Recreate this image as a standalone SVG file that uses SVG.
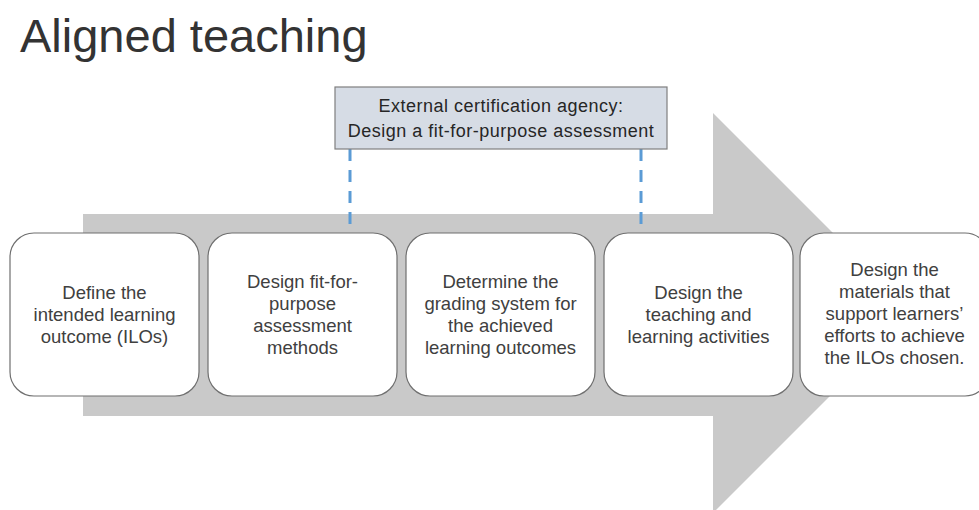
<svg xmlns="http://www.w3.org/2000/svg" width="979" height="510" viewBox="0 0 979 510">
<style>
  .title { font-family: "Liberation Sans", Arial, sans-serif; font-size: 47px; fill: #333333; }
  .arrow { fill: #c9c9c9; }
  .box { fill: #ffffff; stroke: #6f6f6f; stroke-width: 1.2; }
  .topbox { fill: #d6dce5; stroke: #7f7f7f; stroke-width: 1.2; }
  .lbl { font-family: "Liberation Sans", Arial, sans-serif; font-size: 18.5px; fill: #404040; text-anchor: middle; }
  .toplbl { font-family: "Liberation Sans", Arial, sans-serif; font-size: 18px; fill: #262626; text-anchor: middle; letter-spacing: 0.5px; }
  .dash { stroke: #5b9bd5; stroke-width: 3; stroke-dasharray: 12 9; fill: none; }
</style>
<rect width="979" height="510" fill="#ffffff"/>
<text class="title" x="20" y="52">Aligned teaching</text>
<g id="arrow">
  <rect class="arrow" x="83" y="214" width="631" height="202"/>
  <polygon class="arrow" points="713,113 913,313 713,513"/>
</g>
<g id="connectors">
  <line class="dash" x1="350" y1="149" x2="350" y2="234"/>
  <line class="dash" x1="641" y1="149" x2="641" y2="234"/>
</g>
<g id="agency">
  <rect class="topbox" x="335" y="87" width="332" height="62"/>
  <text class="toplbl" x="501" y="112">External certification agency:</text>
  <text class="toplbl" x="501" y="137">Design a fit-for-purpose assessment</text>
</g>
<g id="node1">
  <rect class="box" x="10" y="233" width="189" height="163" rx="24" ry="24"/>
  <text class="lbl" x="104.5" y="299">Define the</text>
  <text class="lbl" x="104.5" y="321">intended learning</text>
  <text class="lbl" x="104.5" y="343">outcome (ILOs)</text>
</g>
<g id="node2">
  <rect class="box" x="208" y="233" width="189" height="163" rx="24" ry="24"/>
  <text class="lbl" x="302.5" y="288">Design fit-for-</text>
  <text class="lbl" x="302.5" y="310">purpose</text>
  <text class="lbl" x="302.5" y="332">assessment</text>
  <text class="lbl" x="302.5" y="354">methods</text>
</g>
<g id="node3">
  <rect class="box" x="406" y="233" width="189" height="163" rx="24" ry="24"/>
  <text class="lbl" x="500.5" y="288">Determine the</text>
  <text class="lbl" x="500.5" y="310">grading system for</text>
  <text class="lbl" x="500.5" y="332">the achieved</text>
  <text class="lbl" x="500.5" y="354">learning outcomes</text>
</g>
<g id="node4">
  <rect class="box" x="604" y="233" width="189" height="163" rx="24" ry="24"/>
  <text class="lbl" x="698.5" y="299">Design the</text>
  <text class="lbl" x="698.5" y="321">teaching and</text>
  <text class="lbl" x="698.5" y="343">learning activities</text>
</g>
<g id="node5">
  <rect class="box" x="800" y="233" width="189" height="163" rx="24" ry="24"/>
  <text class="lbl" x="894.5" y="276">Design the</text>
  <text class="lbl" x="894.5" y="298">materials that</text>
  <text class="lbl" x="894.5" y="320">support learners’</text>
  <text class="lbl" x="894.5" y="342">efforts to achieve</text>
  <text class="lbl" x="894.5" y="364">the ILOs chosen.</text>
</g>
</svg>
